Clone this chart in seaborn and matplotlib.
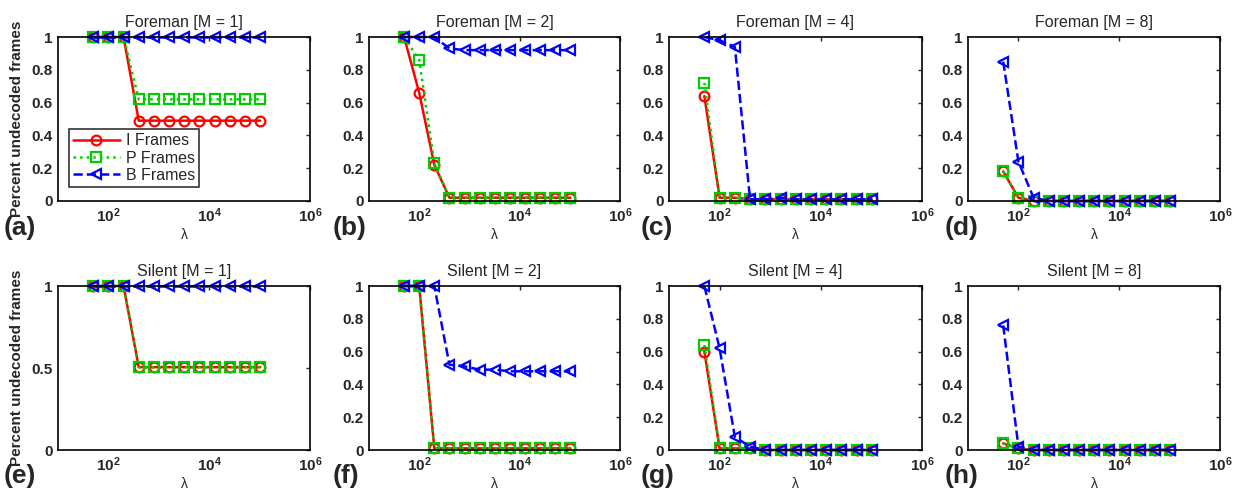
import seaborn as sns
import matplotlib.pyplot as plt
from matplotlib.lines import Line2D
from matplotlib.ticker import FixedLocator, LogFormatterMathtext, NullLocator

plt.switch_backend('agg')

# lambda values (x axis), one point per doubling
lam = [50, 100, 200, 400, 800, 1600, 3200, 6400, 12800, 25600, 51200, 102400]

# Foreman
fm1_i = [1, 1, 1, 0.49, 0.49, 0.49, 0.49, 0.49, 0.49, 0.49, 0.49, 0.49]
fm1_p = [1, 1, 1, 0.62, 0.62, 0.62, 0.62, 0.62, 0.62, 0.62, 0.62, 0.62]
fm1_b = [1, 1, 1, 1, 1, 1, 1, 1, 1, 1, 1, 1]

fm2_i = [1, 0.66, 0.22, 0.02, 0.02, 0.02, 0.02, 0.02, 0.02, 0.02, 0.02, 0.02]
fm2_p = [1, 0.86, 0.23, 0.02, 0.02, 0.02, 0.02, 0.02, 0.02, 0.02, 0.02, 0.02]
fm2_b = [1, 1, 1, 0.93, 0.92, 0.92, 0.92, 0.92, 0.92, 0.92, 0.92, 0.92]

fm4_i = [0.64, 0.02, 0.02, 0.01, 0.01, 0.01, 0.01, 0.01, 0.01, 0.01, 0.01, 0.01]
fm4_p = [0.72, 0.02, 0.02, 0.01, 0.01, 0.01, 0.01, 0.01, 0.01, 0.01, 0.01, 0.01]
fm4_b = [1, 0.98, 0.94, 0.01, 0.01, 0.02, 0.01, 0.01, 0.01, 0.01, 0.01, 0.01]

fm8_i = [0.18, 0.02, 0, 0, 0, 0, 0, 0, 0, 0, 0, 0]
fm8_p = [0.18, 0.02, 0, 0, 0, 0, 0, 0, 0, 0, 0, 0]
fm8_b = [0.85, 0.24, 0.02, 0, 0, 0, 0, 0, 0, 0, 0, 0]

# Silent
sl1_i = [1, 1, 1, 0.505, 0.505, 0.505, 0.505, 0.505, 0.505, 0.505, 0.505, 0.505]
sl1_p = [1, 1, 1, 0.505, 0.505, 0.505, 0.505, 0.505, 0.505, 0.505, 0.505, 0.505]
sl1_b = [1, 1, 1, 1, 1, 1, 1, 1, 1, 1, 1, 1]

sl2_i = [1, 1, 0.01, 0.01, 0.01, 0.01, 0.01, 0.01, 0.01, 0.01, 0.01, 0.01]
sl2_p = [1, 1, 0.01, 0.01, 0.01, 0.01, 0.01, 0.01, 0.01, 0.01, 0.01, 0.01]
sl2_b = [1, 1, 1, 0.52, 0.51, 0.49, 0.49, 0.48, 0.48, 0.48, 0.48, 0.48]

sl4_i = [0.6, 0.01, 0.01, 0.01, 0, 0, 0, 0, 0, 0, 0, 0]
sl4_p = [0.64, 0.01, 0.01, 0.01, 0, 0, 0, 0, 0, 0, 0, 0]
sl4_b = [1, 0.62, 0.08, 0.02, 0, 0, 0, 0, 0, 0, 0, 0]

sl8_i = [0.04, 0.01, 0, 0, 0, 0, 0, 0, 0, 0, 0, 0]
sl8_p = [0.04, 0.01, 0, 0, 0, 0, 0, 0, 0, 0, 0, 0]
sl8_b = [0.76, 0.02, 0, 0, 0, 0, 0, 0, 0, 0, 0, 0]

titles = ["Foreman [M = 1]", "Foreman [M = 2]", "Foreman [M = 4]", "Foreman [M = 8]",
          "Silent [M = 1]", "Silent [M = 2]", "Silent [M = 4]", "Silent [M = 8]"]
panel_tags = ["(a)", "(b)", "(c)", "(d)", "(e)", "(f)", "(g)", "(h)"]
panels = [(fm1_i, fm1_p, fm1_b), (fm2_i, fm2_p, fm2_b), (fm4_i, fm4_p, fm4_b), (fm8_i, fm8_p, fm8_b),
          (sl1_i, sl1_p, sl1_b), (sl2_i, sl2_p, sl2_b), (sl4_i, sl4_p, sl4_b), (sl8_i, sl8_p, sl8_b)]

series_style = [
    dict(label="I Frames", color="#ff0000", marker="o", linestyle="-", ms=7),
    dict(label="P Frames", color="#00cc00", marker="s", linestyle=":", ms=6.5),
    dict(label="B Frames", color="#0000ff", marker="<", linestyle="--", ms=7.5),
]

sns.set_theme(style="white")
plt.rcParams['font.family'] = ['Liberation Sans', 'DejaVu Sans']
plt.rcParams['mathtext.fontset'] = 'custom'
plt.rcParams['mathtext.rm'] = 'Liberation Sans:bold'

W, H = 1240, 496
fig = plt.figure(figsize=(12.4, 4.96), dpi=100)

# axes boxes in pixels: left, right, top, bottom
col_px = [(58, 310), (369, 620), (669, 922), (968, 1220)]
row_px = [(37, 201), (286, 450)]
tag_x = [4, 333, 641, 945]
tag_y = [228, 476]

for idx, (vals, title, tag) in enumerate(zip(panels, titles, panel_tags)):
    r, c = divmod(idx, 4)
    l, rt = col_px[c]
    t, b = row_px[r]
    ax = fig.add_axes([l / W, 1 - b / H, (rt - l) / W, (b - t) / H])
    for y, st in zip(vals, series_style):
        sns.lineplot(x=lam, y=y, ax=ax, color=st["color"], marker=st["marker"],
                     linestyle=st["linestyle"], markerfacecolor="none",
                     markeredgecolor=st["color"], markersize=st["ms"], markeredgewidth=1.6,
                     linewidth=1.8, sort=False, legend=False, clip_on=False)
    ax.set_xscale("log")
    ax.set_xlim(10, 1e6)
    ax.set_ylim(0, 1)
    ax.xaxis.set_major_locator(FixedLocator([1e2, 1e4, 1e6]))
    ax.xaxis.set_major_formatter(LogFormatterMathtext())
    ax.xaxis.set_minor_locator(NullLocator())
    if r == 1 and c == 0:
        ax.set_yticks([0, 0.5, 1])
        ax.set_yticklabels(["0", "0.5", "1"])
    else:
        ax.set_yticks([0, 0.2, 0.4, 0.6, 0.8, 1])
        ax.set_yticklabels(["0", "0.2", "0.4", "0.6", "0.8", "1"])
    ax.tick_params(direction="in", length=3, width=1, top=True, right=True,
                   labelsize=11, pad=4)
    for lab in ax.get_xticklabels() + ax.get_yticklabels():
        lab.set_fontweight("bold")
    for sp in ax.spines.values():
        sp.set_color("black")
        sp.set_linewidth(1.2)
    ax.set_title(title, fontsize=11.5, pad=7)
    ax.set_xlabel("λ", fontsize=10, labelpad=2)
    if c == 0:
        ax.set_ylabel("Percent undecoded frames", fontsize=11, fontweight="bold", labelpad=5)
    else:
        ax.set_ylabel("")
    fig.text(tag_x[c] / W, 1 - tag_y[r] / H, tag, fontsize=19, fontweight="bold",
             ha="left", va="center")

    if idx == 0:
        handles = [Line2D([0], [0], color=st["color"], marker=st["marker"], linestyle=st["linestyle"],
                          markerfacecolor="none", markeredgecolor=st["color"],
                          markersize=st["ms"], markeredgewidth=1.6, linewidth=1.8, label=st["label"])
                   for st in series_style]
        leg = ax.legend(handles=handles, loc="lower left", bbox_to_anchor=(0.045, 0.085),
                        fontsize=11.5, frameon=True, fancybox=False, handlelength=2.9,
                        borderpad=0.25, labelspacing=0.15, handletextpad=0.4, borderaxespad=0)
        leg.get_frame().set_edgecolor("black")
        leg.get_frame().set_linewidth(1.2)

fig.savefig("out.png", dpi=100)
